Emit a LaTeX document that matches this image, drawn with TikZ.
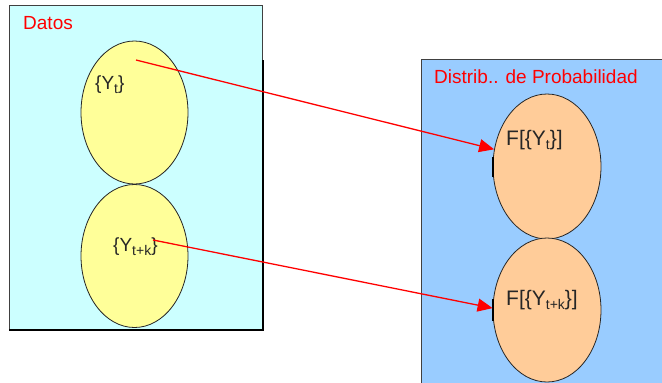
\documentclass[tikz,border=0pt]{standalone}
\usepackage{fontspec}
\setmainfont{Liberation Sans}
\usetikzlibrary{shapes.geometric,arrows.meta}
\definecolor{datafill}{HTML}{CCFFFF}
\definecolor{probfill}{HTML}{99CCFF}
\definecolor{seqfill}{HTML}{FFFF99}
\definecolor{distfill}{HTML}{FFCC99}
\definecolor{labelred}{HTML}{FF0000}
\newcommand\lowsub[1]{\raisebox{-4pt}{\fontsize{14}{14}\selectfont #1}}
\begin{document}
\begin{tikzpicture}[x=1pt,y=-1pt,
  panel/.style={rectangle, draw=black!75, line width=0.8pt, inner sep=0, anchor=north west},
  blob/.style={ellipse, draw=black!85, line width=0.8pt, inner sep=0,
               minimum width=107pt, minimum height=143pt},
  title/.style={text=labelred, anchor=base west, inner sep=0, font=\fontsize{19}{22}\selectfont},
  lbl/.style={anchor=base west, inner sep=0, text=black!85, font=\fontsize{19}{22}\selectfont},
  link/.style={draw=labelred, line width=1.3pt, -{Triangle[length=15pt,width=13pt]}},
  tick/.style={line width=2pt, black}]
\useasboundingbox (0,0) rectangle (662,383);

% panels
\node[panel, fill=datafill, minimum width=253pt, minimum height=324pt] (datos) at (9,5) {};
\draw[line width=2.5pt] ([yshift=-55pt]datos.north east) -- (datos.south east) -- (datos.south west);
\node[panel, fill=probfill, minimum width=260pt, minimum height=340pt] (prob) at (421,59) {};

\node[title] (tdatos) at (23,29) {Datos};
\node[title] (tprob) at (434,83) {Distrib.. de Probabilidad};

% data sets
\node[blob, fill=seqfill] (y1) at (134.5,112.5) {};
\node[blob, fill=seqfill] (y2) at (134.5,256) {};
\node[lbl] (ly1) at (95,89) {\{Y\lowsub{t}\}};
\node[lbl] (ly2) at (113,251) {\{Y\lowsub{t+k}\}};

% distributions
\node[blob, fill=distfill, minimum width=108pt, minimum height=145pt] (f1) at (547,166.5) {};
\node[blob, fill=distfill, minimum width=108pt, minimum height=144pt] (f2) at (547,310) {};
\node[lbl, font=\fontsize{21}{24}\selectfont] (lf1) at (506,145) {F[\{Y\lowsub{t}\}]};
\node[lbl, font=\fontsize{21}{24}\selectfont] (lf2) at (506,305) {F[\{Y\lowsub{t+k}\}]};

\draw[tick] ([yshift=-10pt]f1.west) -- ([yshift=10pt]f1.west);
\draw[tick] ([yshift=-11pt]f2.west) -- ([yshift=11pt]f2.west);

% links
\coordinate (s1) at (136,60);
\coordinate (s2) at (153,240);
\draw[link] (s1) -- (f1.162);
\draw[link] (s2) -- (f2.178);
\end{tikzpicture}
\end{document}
